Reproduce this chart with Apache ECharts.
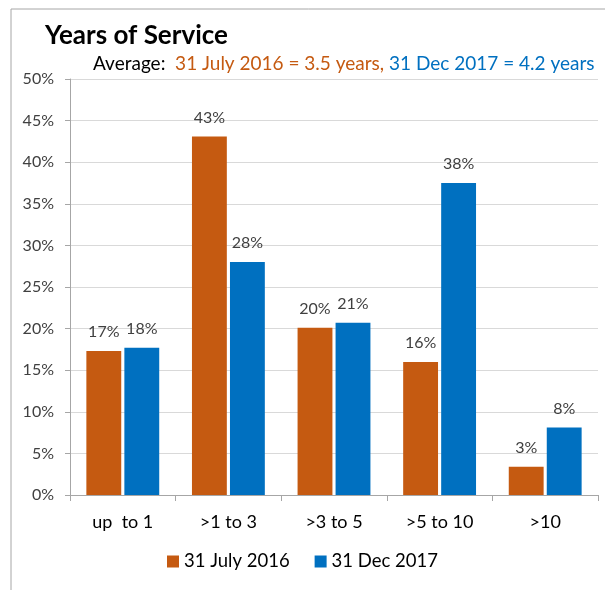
<!DOCTYPE html>
<html>
<head>
<meta charset="utf-8">
<script src="https://cdn.jsdelivr.net/npm/echarts@6/dist/echarts.min.js"></script>
<style>
html,body{margin:0;padding:0;background:#fff;}
#chart{width:605px;height:590px;}
</style>
</head>
<body>
<div id="chart"></div>
<script>
const categories = ['up  to 1', '>1 to 3', '>3 to 5', '>5 to 10', '>10'];
const seriesNames = ['31 July 2016', '31 Dec 2017'];
const july2016 = [17.3, 43.1, 20.1, 16.0, 3.4];
const dec2017 = [17.7, 28.0, 20.7, 37.5, 8.1];
const yTicks = [0, 5, 10, 15, 20, 25, 30, 35, 40, 45, 50];
const colors = ['#C55A11', '#0070C0'];
const FONT = 'Lato';

const chart = echarts.init(document.getElementById('chart'), null, {renderer: 'canvas'});
const labelCfg = {
  show: true, position: 'top', distance: 11,
  fontFamily: FONT, fontSize: 16, color: '#404040',
  formatter: p => Math.round(p.value) + '%'
};
chart.setOption({
  animation: false,
  backgroundColor: '#fff',
  graphic: [
    {type: 'rect', shape: {x: 11, y: 9, width: 700, height: 700},
     style: {fill: 'none', stroke: '#A6A6A6', lineWidth: 1}, z: -1},
    {type: 'text', left: 45, top: 23,
     style: {text: 'Years of Service', font: 'bold 26px ' + FONT, fill: '#000'}},
    {type: 'text', left: 93, top: 54,
     style: {
       text: '{k|Average:  }{o|31 July 2016 = 3.5 years, }{b|31 Dec 2017 = 4.2 years}',
       rich: {
         k: {fontFamily: FONT, fontSize: 19, fill: '#000', color: '#000'},
         o: {fontFamily: FONT, fontSize: 19, fill: '#C55A11', color: '#C55A11'},
         b: {fontFamily: FONT, fontSize: 19, fill: '#0070C0', color: '#0070C0'}
       }
     }}
  ],
  legend: {
    bottom: 14, left: 'center', itemWidth: 12, itemHeight: 12, itemGap: 25,
    icon: 'rect',
    textStyle: {fontFamily: FONT, fontSize: 18.5, color: '#000'},
    data: seriesNames
  },
  grid: {left: 70, right: 7, top: 79, bottom: 95, containLabel: false},
  xAxis: {
    type: 'category', data: categories,
    axisLine: {lineStyle: {color: '#A6A6A6'}},
    axisTick: {show: true, length: 6, lineStyle: {color: '#A6A6A6'}},
    axisLabel: {fontFamily: FONT, fontSize: 18, color: '#000', margin: 18}
  },
  yAxis: {
    type: 'value', min: 0, max: 50, interval: 5,
    axisLine: {show: true, lineStyle: {color: '#A6A6A6'}},
    axisTick: {show: true, length: 5, lineStyle: {color: '#A6A6A6'}},
    splitLine: {lineStyle: {color: '#D9D9D9'}},
    axisLabel: {fontFamily: FONT, fontSize: 16, color: '#404040', margin: 16,
      formatter: v => yTicks.includes(v) ? v + '%' : ''}
  },
  series: [
    {name: seriesNames[0], type: 'bar', data: july2016, itemStyle: {color: colors[0]},
     barGap: '9%', barCategoryGap: '31%', label: labelCfg},
    {name: seriesNames[1], type: 'bar', data: dec2017, itemStyle: {color: colors[1]},
     barGap: '9%', barCategoryGap: '31%', label: labelCfg}
  ]
});
</script>
</body>
</html>
